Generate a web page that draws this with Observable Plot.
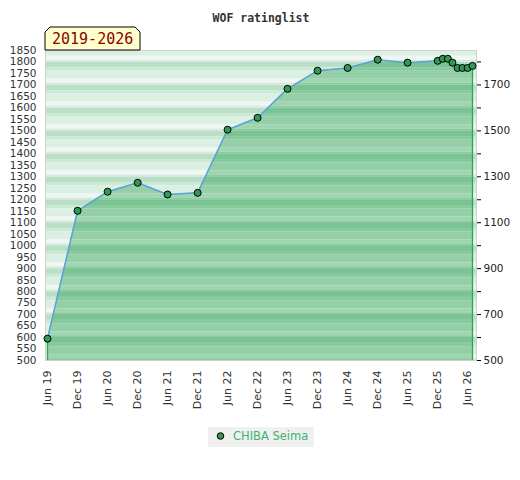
<!DOCTYPE html>
<html><head><meta charset="utf-8">
<script src="https://cdn.jsdelivr.net/npm/d3@7"></script>
<script src="https://cdn.jsdelivr.net/npm/@observablehq/plot@0.6"></script>
<style>body{margin:0;background:#fff;} #chart svg{display:block}</style>
</head><body><div id="chart"></div>
<script>
const title = "WOF ratinglist";
const periodLabel = "2019-2026";
const seriesName = "CHIBA Seima";
const months = ["2019-06","2019-12","2020-06","2020-12","2021-06","2021-12","2022-06","2022-12","2023-06","2023-12","2024-06","2024-12","2025-06","2025-12","2026-01","2026-02","2026-03","2026-04","2026-05","2026-06","2026-07"];
const ratings = [595,1152,1235,1274,1223,1230,1505,1557,1683,1762,1774,1810,1797,1805,1814,1814,1797,1774,1774,1774,1783];
const xTickMonths = ["2019-06","2019-12","2020-06","2020-12","2021-06","2021-12","2022-06","2022-12","2023-06","2023-12","2024-06","2024-12","2025-06","2025-12","2026-06"];
const yLeftTicks = d3.range(500, 1851, 50);
const yRightTicks = d3.range(500, 1801, 100);
const yMin = 500, yMax = 1850;

const parse = d3.utcParse("%Y-%m");
const data = months.map((m, i) => ({date: parse(m), rating: ratings[i]}));
const ends = [data[0], data[data.length - 1]];

// decorative horizontal stripes (period of 100 rating points)
const bands = [];
const segs = [[0,25,0],[25,40,1],[40,75,2],[75,92,3],[92,100,4]];
for (let v = 600; v <= 1900; v += 100) {
  for (const [a, b, k] of segs) {
    const hi = Math.min(v - a, yMax), lo = Math.max(v - b, yMin);
    if (hi > lo) bands.push({y1: lo, y2: hi, k});
  }
}
const pale = ["#b9e0c7","#cce9d6","#dcefe3","#eef7f1","#dbe8df"];
const dark = ["#7ac393","#88c99e","#94cfa8","#9fd5b1","#8ccba0"];

const chart = Plot.plot({
  width: 520, height: 480,
  marginTop: 50, marginBottom: 120, marginLeft: 45, marginRight: 44,
  style: {fontFamily: "DejaVu Sans", fontSize: "11px", color: "#333", background: "#fff"},
  x: {type: "utc", domain: [data[0].date, data[data.length - 1].date], insetLeft: 2, insetRight: 4, label: null},
  y: {domain: [yMin, yMax], label: null},
  color: {type: "identity"},
  marks: [
    Plot.rect(bands, {y1: "y1", y2: "y2", fill: d => pale[d.k]}),
    Plot.rect(bands, {y1: "y1", y2: "y2", fill: d => dark[d.k]}),
    Plot.areaY(data, {x: "date", y1: () => yMin, y2: "rating", fill: "none", stroke: "none"}),
    Plot.frame({stroke: "#d0d0d0"}),
    Plot.ruleX(ends, {x: "date", y1: () => yMin, y2: "rating", stroke: "#2ea84f", strokeWidth: 1.3}),
    Plot.lineY(data, {x: "date", y: "rating", stroke: "#5aa2dc", strokeWidth: 1.5}),
    Plot.dot(data, {x: "date", y: "rating", r: 3.5, fill: "#2e9a55", stroke: "#000", strokeWidth: 1}),
    Plot.axisY(yLeftTicks, {anchor: "left", tickSize: 0, tickPadding: 9, fontSize: 10.5, fill: "#333", tickFormat: d => String(d)}),
    Plot.axisY(yRightTicks, {anchor: "right", tickSize: 4, tickPadding: 3, fontSize: 10.5, fill: "#222", stroke: "#000", tickFormat: d => (d - 500) % 200 === 0 ? String(d) : ""}),
    Plot.axisX(xTickMonths.map(parse), {tickSize: 0, tickRotate: -90, tickPadding: 10, fill: "#333", tickFormat: d3.utcFormat("%b %y")}),
    Plot.text([title], {frameAnchor: "top", dy: -37, fontFamily: "DejaVu Sans Mono", fontWeight: "bold", fontSize: 11.5, fill: "#333"})
  ]
});
document.getElementById("chart").append(chart);

const svg = d3.select(chart);
const areaNode = svg.select('g[aria-label="area"] path').node();
const rectGroups = svg.selectAll('g[aria-label="rect"]').nodes();
if (areaNode && rectGroups.length > 1) {
  const defs = svg.insert("defs", ":first-child");
  defs.append("clipPath").attr("id", "areaClip").append("path").attr("d", areaNode.getAttribute("d"));
  d3.select(rectGroups[1]).attr("clip-path", "url(#areaClip)");
}

// period label box
const L = 45, T = 50, c = 5;
svg.append("path")
  .attr("d", `M${L},${T}V${T - 23 + c}L${L + c},${T - 23}H${L + 95 - c}L${L + 95},${T - 23 + c}V${T}Z`)
  .attr("fill", "#ffffcc").attr("stroke", "#000");
svg.append("text").attr("x", L + 7).attr("y", T - 6).attr("text-anchor", "start")
  .attr("font-family", "DejaVu Sans Mono").attr("font-size", 15).attr("fill", "#8b0000")
  .text(periodLabel);

// legend
const lg = svg.append("g");
lg.append("rect").attr("x", 208).attr("y", 427).attr("width", 106).attr("height", 20).attr("fill", "#f0f0f0");
lg.append("circle").attr("cx", 220.5).attr("cy", 436).attr("r", 3.3).attr("fill", "#2e9a55").attr("stroke", "#000");
lg.append("text").attr("x", 233).attr("y", 440).attr("text-anchor", "start").attr("font-family", "DejaVu Sans").attr("font-size", 11.5).attr("fill", "#3cb371").text(seriesName);
</script>
</body></html>
